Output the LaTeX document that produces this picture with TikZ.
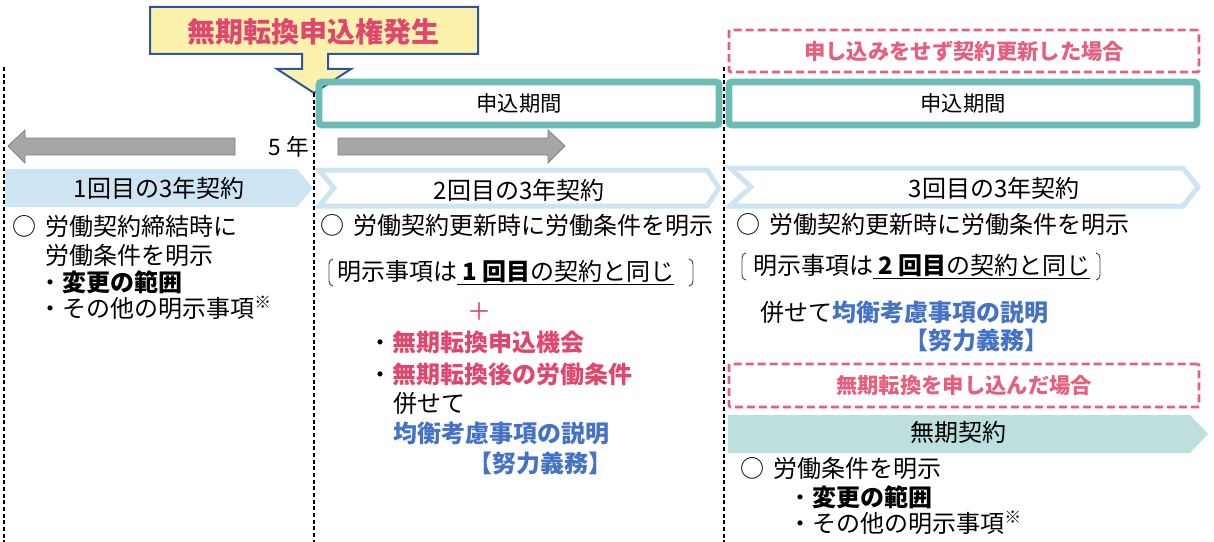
\documentclass[tikz,border=0pt]{standalone}
\usepackage{fontspec}
\setmainfont{Noto Sans CJK JP}
\definecolor{tealline}{HTML}{6BBBB6}
\definecolor{tealfill}{HTML}{BCE0DD}
\definecolor{skyfill}{HTML}{CDE5F2}
\definecolor{pinkred}{HTML}{E0476E}
\definecolor{casepink}{HTML}{E5607F}
\definecolor{officeblue}{HTML}{4472C4}
\definecolor{calloutfill}{HTML}{FCF2AE}
\definecolor{calloutline}{HTML}{2F5597}
\definecolor{arrowgray}{HTML}{A6A6A6}
\definecolor{arrowedge}{HTML}{7F7F7F}
\newcommand{\circmark}{○\hspace{0.4em}}
\begin{document}
\begin{tikzpicture}[x=0.75pt,y=-0.75pt,
  every node/.style={inner sep=0pt,font=\fontsize{18}{21}\selectfont},
  periodbox/.style={draw=tealline,line width=5pt,rounded corners=2pt,minimum height=32.25pt,font=\fontsize{16}{19}\selectfont},
  casebox/.style={draw=casepink,line width=2.2pt,dash pattern=on 6pt off 3pt,rounded corners=1pt,text=casepink,font=\fontsize{16}{19}\selectfont\bfseries},
  chevron/.style={draw=skyfill,line width=3.75pt,fill=white,miter limit=20},
  blockarrow/.style={fill=arrowgray,draw=arrowedge,line width=0.6pt},
  divider/.style={line width=0.9pt,dash pattern=on 3pt off 2pt},
  bracketline/.style={draw=black!75,line width=0.7pt}]
\useasboundingbox (0,0) rectangle (1214,542);

% callout
\draw[fill=calloutfill,draw=calloutline,line width=1.5pt] (150,7) -- (478,7) -- (478,54) -- (328,54) -- (328,69) -- (351,69) -- (314,93) -- (277,69) -- (302,69) -- (302,54) -- (150,54) -- cycle;
\node[text=pinkred,font=\fontsize{21}{24}\selectfont\bfseries] (gen) at (313,32) {無期転換申込権発生};
\coordinate (tip) at (314,93);

% periods
\node[periodbox,minimum width=300pt] (p1) at (519,103.5) {申込期間};
\node[periodbox,minimum width=351pt] (p2) at (963,103.5) {申込期間};
\node[casebox,minimum width=352.5pt,minimum height=31.5pt] (c1) at (964,51) {申し込みをせず契約更新した場合};

% 5 years
\node[font=\fontsize{17}{20}\selectfont] (five) at (289,147) {5 年};
\draw[blockarrow] (8,146) -- (25,130) -- (25,138) -- (235,138) -- (235,155) -- (25,155) -- (25,163) -- cycle;
\draw[blockarrow] (338,138) -- (548,138) -- (548,130) -- (565,146) -- (548,163) -- (548,155) -- (338,155) -- cycle;

% contracts
\fill[skyfill] (5,169) -- (297,169) -- (313,188) -- (297,207) -- (5,207) -- cycle;
\node (r1) at (159,188) {1回目の3年契約};
\draw[chevron] (319,170) -- (707,170) -- (719,188) -- (707,206) -- (319,206) -- (334,188) -- cycle;
\node (r2) at (519,190) {2回目の3年契約};
\draw[chevron] (730,168) -- (1183,168) -- (1198,187) -- (1183,206) -- (730,206) -- (751,187) -- cycle;
\node (r3) at (994,188) {3回目の3年契約};

% first contract
\node[anchor=west] (a1) at (12,226) {\circmark 労働契約締結時に};
\node[anchor=west] (a2) at (45,255) {労働条件を明示};
\node[anchor=west] (a3) at (38,282) {・\textbf{変更の範囲}};
\node[anchor=west] (a4) at (38,308) {・その他の明示事項\textsuperscript{※}};

% second contract
\node[anchor=west] (b1) at (320,225) {\circmark 労働契約更新時に労働条件を明示};
\draw[bracketline] (333,259) to[out=180,in=90] (329,264) -- (329,281) to[out=-90,in=180] (333,286);
\node[anchor=west] (b2) at (337,273) {明示事項は\underline{\hspace{0.2em}\textbf{1 回目}の契約と同じ}};
\draw[bracketline] (689,259) to[out=0,in=90] (693,264) -- (693,281) to[out=-90,in=0] (689,286);
\node[text=pinkred] (plus) at (479,312) {＋};
\node[anchor=west] (b3) at (368,342) {・\textcolor{pinkred}{\bfseries 無期転換申込機会}};
\node[anchor=west] (b4) at (368,374) {・\textcolor{pinkred}{\bfseries 無期転換後の労働条件}};
\node[anchor=west] (b5) at (393,403) {併せて};
\node[anchor=west,text=officeblue,font=\fontsize{18}{21}\selectfont\bfseries] (b6) at (393,433) {均衡考慮事項の説明};
\node[text=officeblue,font=\fontsize{18}{21}\selectfont\bfseries] (b7) at (540,463) {【努力義務】};

% third contract
\node[anchor=west] (d1) at (736,224) {\circmark 労働契約更新時に労働条件を明示};
\draw[bracketline] (746,253) to[out=180,in=90] (742,258) -- (742,275) to[out=-90,in=180] (746,280);
\node[anchor=west] (d2) at (753,267) {明示事項は\underline{\hspace{0.2em}\textbf{2 回目}の契約と同じ}};
\draw[bracketline] (1096,253) to[out=0,in=90] (1100,258) -- (1100,275) to[out=-90,in=0] (1096,280);
\node[anchor=west] (d3) at (760,312) {併せて\textcolor{officeblue}{\bfseries 均衡考慮事項の説明}};
\node[text=officeblue,font=\fontsize{18}{21}\selectfont\bfseries] (d4) at (976,340) {【努力義務】};

% indefinite term
\node[casebox,minimum width=352.5pt,minimum height=32.25pt] (c2) at (964,385.5) {無期転換を申し込んだ場合};
\fill[tealfill] (728,415) -- (1190,415) -- (1208,434) -- (1190,453) -- (728,453) -- cycle;
\node (m0) at (958,432) {無期契約};
\node[anchor=west] (m1) at (740,468) {\circmark 労働条件を明示};
\node[anchor=west] (m2) at (788,497) {・\textbf{変更の範囲}};
\node[anchor=west] (m3) at (788,523) {・その他の明示事項\textsuperscript{※}};

% dividers
\draw[divider] (4,67) -- (4,542);
\draw[divider] (tip) -- (314,542);
\draw[divider] (724,67) -- (724,542);
\end{tikzpicture}
\end{document}
